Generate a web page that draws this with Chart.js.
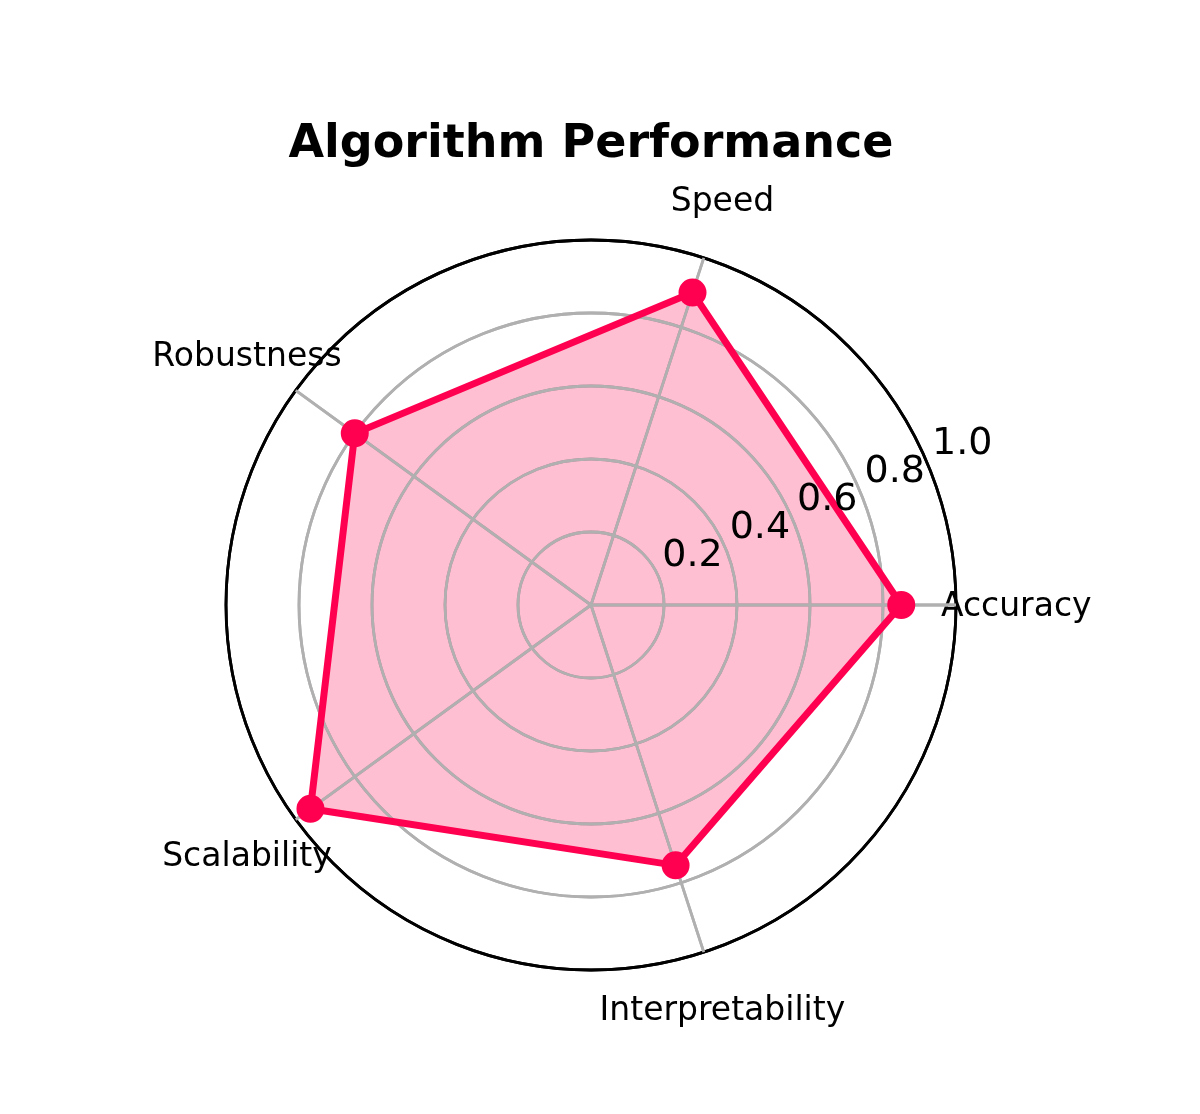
<!DOCTYPE html>
<html>
<head>
<meta charset="utf-8">
<title>Algorithm Performance</title>
<script src="https://cdn.jsdelivr.net/npm/chart.js@4.4.1/dist/chart.umd.min.js"></script>
<style>
  html, body { margin: 0; padding: 0; background: #ffffff; }
  #wrap { width: 1200px; height: 1114px; }
</style>
</head>
<body>
<div id="wrap"><canvas id="radar" width="1200" height="1114"></canvas></div>
<script>
// Datos del gráfico (orden original, sentido antihorario desde la derecha)
const categories = ['Accuracy', 'Speed', 'Robustness', 'Scalability', 'Interpretability'];
const scores = [0.85, 0.9, 0.8, 0.95, 0.75];
const tickValues = [0.2, 0.4, 0.6, 0.8, 1.0];
const tickLabels = ['0.2', '0.4', '0.6', '0.8', '1.0'];

// Chart.js recorre los ejes en sentido horario: se invierte el orden
const order = [0, 4, 3, 2, 1];
const labels = order.map(i => categories[i]);
const values = order.map(i => scores[i]);

const lineColor = 'rgb(255, 0, 80)';
const fillColor = 'rgba(255, 0, 80, 0.25)';
const gridColor = '#b0b0b0';

// Textos de ejes y marcas dibujados con la escala de Chart.js
const radarText = {
    id: 'radarText',
    beforeDraw(chart) {
        const scale = chart.scales.r;
        const ctx = chart.ctx;
        ctx.save();
        ctx.font = '33px "DejaVu Sans"';
        ctx.fillStyle = '#000';
        ctx.textAlign = 'center';
        ctx.textBaseline = 'middle';
        chart.data.labels.forEach((label, i) => {
            const p = scale.getPointPosition(i, scale.drawingArea * 1.165);
            ctx.fillText(label, p.x, p.y + 2);
        });
        ctx.restore();
    },
    // la rejilla queda encima del relleno pero debajo de la línea
    afterDatasetDraw(chart, args) {
        if (args.index === 0) chart.scales.r.drawGrid();
    },
    afterDatasetsDraw(chart) {
        const scale = chart.scales.r;
        const ctx = chart.ctx;
        const a = 22.5 * Math.PI / 180;
        ctx.save();
        ctx.font = '38px "DejaVu Sans"';
        ctx.fillStyle = '#000';
        ctx.textAlign = 'center';
        ctx.textBaseline = 'middle';
        tickValues.forEach((v, i) => {
            const d = scale.getDistanceFromCenterForValue(v);
            const x = scale.xCenter + d * Math.cos(a) + 34;
            const y = scale.yCenter - d * Math.sin(a) - 21;
            ctx.fillText(tickLabels[i], x, y);
        });
        ctx.restore();
    }
};

new Chart(document.getElementById('radar'), {
    type: 'radar',
    data: {
        labels: labels,
        datasets: [{
            label: 'Score fill',
            data: values,
            order: 2,
            borderWidth: 0,
            borderColor: 'rgba(0,0,0,0)',
            backgroundColor: fillColor,
            fill: true,
            pointRadius: 0
        }, {
            label: 'Score',
            data: values,
            order: 1,
            borderColor: lineColor,
            backgroundColor: lineColor,
            borderWidth: 7,
            fill: false,
            tension: 0,
            pointRadius: 13,
            pointBorderWidth: 2,
            pointBackgroundColor: lineColor,
            pointBorderColor: lineColor
        }]
    },
    options: {
        responsive: false,
        animation: false,
        devicePixelRatio: 1,
        layout: {
            padding: { left: 226, right: 244, top: 0, bottom: 144 }
        },
        plugins: {
            legend: { display: false },
            tooltip: { enabled: false },
            title: {
                display: true,
                text: 'Algorithm Performance',
                color: '#000',
                font: { family: '"DejaVu Sans"', size: 46, weight: 'bold' },
                padding: { top: 117.2, bottom: 67.6 }
            }
        },
        scales: {
            r: {
                min: 0,
                max: 1,
                startAngle: 90,
                ticks: { stepSize: 0.2, display: false },
                pointLabels: { display: false },
                grid: {
                    circular: true,
                    color: c => (c.tick && c.tick.value >= 0.999) ? '#000000' : gridColor,
                    lineWidth: 2.8
                },
                angleLines: { color: gridColor, lineWidth: 2.8 }
            }
        }
    },
    plugins: [radarText]
});
</script>
</body>
</html>
